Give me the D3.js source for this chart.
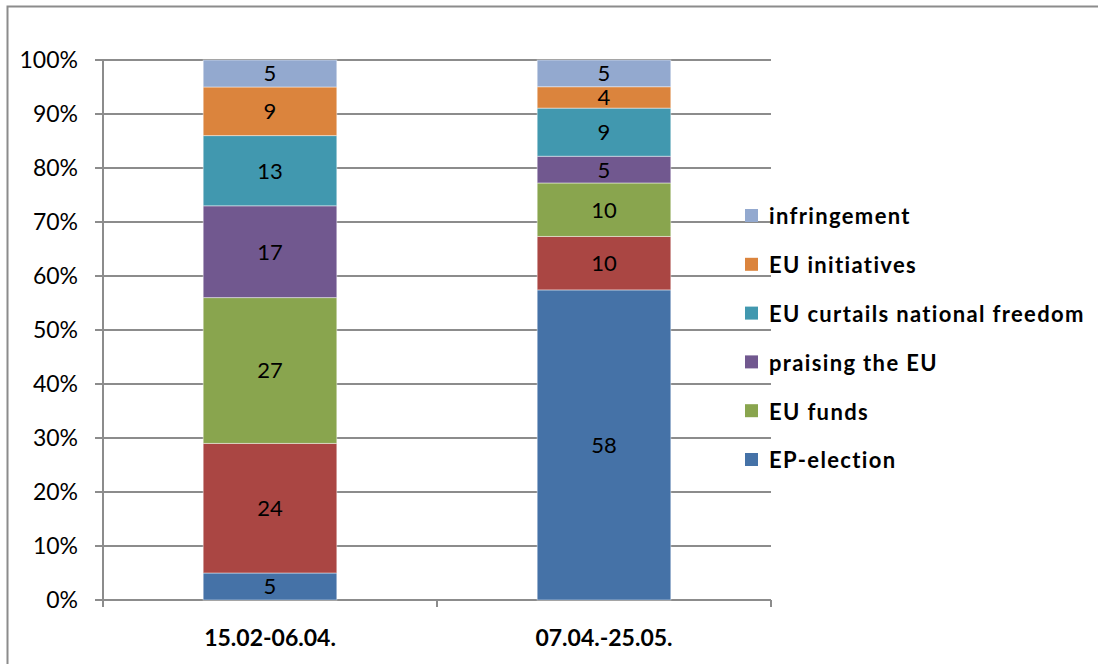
<!DOCTYPE html>
<html>
<head>
  <meta charset="utf-8" />
  <title>EU topics</title>
  <style>
    body { margin: 0; background: #fff; }
    svg text { font-family: Lato, "Open Sans", sans-serif; }
  </style>
  <script src="https://cdnjs.cloudflare.com/ajax/libs/d3/7.8.5/d3.min.js"></script>
</head>
<body>
  <div id="chart"></div>
  <script>
    // periods on the x axis
    var periods = ['15.02-06.04.', '07.04.-25.05.'];

    // series, bottom to top of each column
    var seriesKeys = ['EP-election', 'other', 'EU funds', 'praising the EU',
      'EU curtails national freedom', 'EU initiatives', 'infringement'];
    var seriesColors = ['#4572A7', '#AA4643', '#89A54E', '#71588F', '#4198AF', '#DB843D', '#93A9CF'];

    // counts per series, one value per period
    var epElection = [5, 58];
    var other = [24, 10];
    var euFunds = [27, 10];
    var praising = [17, 5];
    var curtails = [13, 9];
    var initiatives = [9, 4];
    var infringement = [5, 5];

    // the red series has no legend entry in the original
    var legendKeys = ['infringement', 'EU initiatives', 'EU curtails national freedom',
      'praising the EU', 'EU funds', 'EP-election'];

    var yTicks = [0, 0.1, 0.2, 0.3, 0.4, 0.5, 0.6, 0.7, 0.8, 0.9, 1];

    var valueLists = [epElection, other, euFunds, praising, curtails, initiatives, infringement];
    var rows = periods.map(function (p, i) {
      var r = { period: p };
      seriesKeys.forEach(function (k, j) { r[k] = valueLists[j][i]; });
      return r;
    });

    var W = 1098, H = 664;
    var plot = { left: 103, right: 771, top: 60, bottom: 600 };

    var svg = d3.select('#chart').append('svg')
      .attr('width', W)
      .attr('height', H);

    // chart border (only top and left visible in the crop)
    svg.append('path')
      .attr('d', 'M7.5,' + H + 'V6.5H' + W)
      .attr('fill', 'none')
      .attr('stroke', '#8c8c8c')
      .attr('stroke-width', 2);

    var x = d3.scaleBand()
      .domain(periods)
      .range([plot.left, plot.right])
      .paddingInner(0.6)
      .paddingOuter(0.3);

    var y = d3.scaleLinear()
      .domain([0, 1])
      .range([plot.bottom, plot.top]);

    var color = d3.scaleOrdinal().domain(seriesKeys).range(seriesColors);

    // gridlines + y labels
    var grid = svg.append('g');
    grid.selectAll('line')
      .data(yTicks)
      .enter()
      .append('line')
      .attr('x1', plot.left - 8)
      .attr('x2', plot.right)
      .attr('y1', d => y(d))
      .attr('y2', d => y(d))
      .attr('stroke', '#8c8c8c')
      .attr('stroke-width', 2);

    grid.selectAll('text')
      .data(yTicks)
      .enter()
      .append('text')
      .attr('x', 78)
      .attr('y', d => y(d))
      .attr('dy', '0.36em')
      .attr('text-anchor', 'end')
      .attr('font-size', 23)
      .attr('fill', '#000')
      .text(d3.format('.0%'));

    // y axis line
    svg.append('line')
      .attr('x1', plot.left).attr('x2', plot.left)
      .attr('y1', plot.top).attr('y2', plot.bottom)
      .attr('stroke', '#8c8c8c')
      .attr('stroke-width', 2);

    // x axis ticks between categories
    var xTickPos = [plot.left].concat(periods.map(p => x(p) + x.bandwidth() / 2 + x.step() / 2));
    svg.append('g').selectAll('line')
      .data(xTickPos)
      .enter()
      .append('line')
      .attr('x1', d => d).attr('x2', d => d)
      .attr('y1', plot.bottom).attr('y2', plot.bottom + 7)
      .attr('stroke', '#8c8c8c')
      .attr('stroke-width', 2);

    // stacked bars, normalised to 100%
    var stacked = d3.stack()
      .keys(seriesKeys)
      .offset(d3.stackOffsetExpand)(rows);

    var layers = svg.append('g').selectAll('g')
      .data(stacked)
      .enter()
      .append('g')
      .attr('fill', d => color(d.key));

    layers.selectAll('rect')
      .data(d => d)
      .enter()
      .append('rect')
      .attr('x', d => x(d.data.period))
      .attr('width', x.bandwidth())
      .attr('y', d => y(d[1]))
      .attr('height', d => y(d[0]) - y(d[1]))
      .attr('stroke', 'rgba(255,255,255,0.45)')
      .attr('stroke-width', 1);

    layers.each(function (layer) {
      d3.select(this).selectAll('text')
        .data(layer)
        .enter()
        .append('text')
        .attr('x', d => x(d.data.period) + x.bandwidth() / 2)
        .attr('y', d => (y(d[0]) + y(d[1])) / 2)
        .attr('dy', '0.36em')
        .attr('text-anchor', 'middle')
        .attr('font-size', 22)
        .attr('fill', '#000')
        .text(d => d.data[layer.key]);
    });

    // category labels
    svg.append('g').selectAll('text')
      .data(periods)
      .enter()
      .append('text')
      .attr('x', d => x(d) + x.bandwidth() / 2)
      .attr('y', 638)
      .attr('dy', '0.36em')
      .attr('text-anchor', 'middle')
      .attr('font-size', 23)
      .attr('font-weight', 'bold')
      .attr('fill', '#000')
      .text(d => d);

    // legend
    var legend = svg.append('g').selectAll('g')
      .data(legendKeys)
      .enter()
      .append('g')
      .attr('transform', (d, i) => 'translate(745,' + (216 + i * 48.8) + ')');

    legend.append('rect')
      .attr('x', 0)
      .attr('y', -7)
      .attr('width', 13)
      .attr('height', 13)
      .attr('fill', d => color(d));

    legend.append('text')
      .attr('x', 24)
      .attr('y', 0)
      .attr('dy', '0.38em')
      .attr('font-size', 22)
      .attr('font-weight', 'bold')
      .attr('letter-spacing', 1.35)
      .attr('fill', '#000')
      .text(d => d);
  </script>
</body>
</html>
